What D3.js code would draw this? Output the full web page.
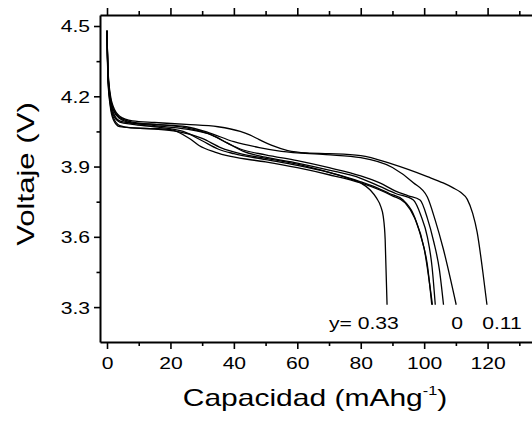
<html>
<head>
<script src="https://cdn.jsdelivr.net/npm/d3@7"></script>
<style>
  body { margin: 0; background: #fff; }
  text { font-family: "Liberation Sans", Arial, sans-serif; fill: #000; }
</style>
</head>
<body>
<div id="container"></div>
<script>
// discharge curves, capacity (mAh/g) vs voltage (V)
const cap011 = [0, 0.3, 1, 2, 4, 8, 15, 25, 35, 42, 45, 48, 52, 57, 63, 70, 80, 90, 101, 106, 109, 111.5, 113.6, 115.3, 116.7, 118.5, 119.8];
const volt011 = [4.48, 4.32, 4.21, 4.155, 4.115, 4.095, 4.088, 4.08, 4.07, 4.05, 4.035, 4.015, 3.99, 3.968, 3.958, 3.955, 3.947, 3.91, 3.857, 3.83, 3.81, 3.79, 3.76, 3.70, 3.62, 3.45, 3.31];

const cap000 = [0, 0.3, 1, 2, 4, 8, 15, 25, 32, 40, 48, 55, 69, 80, 90, 96.5, 101, 103.5, 106, 110.1];
const volt000 = [4.48, 4.31, 4.2, 4.145, 4.11, 4.09, 4.08, 4.07, 4.045, 4.006, 3.981, 3.965, 3.951, 3.938, 3.896, 3.832, 3.77, 3.67, 3.55, 3.31];

const capA = [0, 0.3, 1, 2, 4, 8, 15, 25, 32, 38, 42, 50, 60, 70, 80, 86, 91, 95, 98.7, 101, 103, 104.8, 106.1];
const voltA = [4.48, 4.30, 4.195, 4.14, 4.105, 4.085, 4.075, 4.06, 4.04, 4.0, 3.975, 3.95, 3.925, 3.895, 3.86, 3.83, 3.795, 3.775, 3.757, 3.68, 3.58, 3.46, 3.31];

const capB = [0, 0.3, 1, 2, 4, 8, 15, 24, 30, 35, 40, 50, 60, 70, 80, 85, 89, 93.4, 96.5, 99, 101, 102.4];
const voltB = [4.48, 4.29, 4.18, 4.12, 4.09, 4.08, 4.07, 4.05, 4.01, 3.975, 3.955, 3.93, 3.905, 3.875, 3.835, 3.81, 3.785, 3.757, 3.70, 3.60, 3.48, 3.31];

const capC = [0, 0.3, 1, 2, 4, 8, 15, 25, 33, 38, 43, 50, 60, 70, 80, 86, 91, 96.6, 99, 101, 102.5, 103.5];
const voltC = [4.48, 4.30, 4.19, 4.13, 4.095, 4.085, 4.08, 4.065, 4.035, 4.0, 3.965, 3.94, 3.915, 3.885, 3.85, 3.815, 3.785, 3.757, 3.69, 3.60, 3.47, 3.31];

const capD = [0, 0.3, 1, 2, 4, 8, 15, 20, 26, 29, 34, 39, 50, 60, 70, 80, 86, 90, 94, 97, 100, 102.6];
const voltD = [4.48, 4.28, 4.17, 4.11, 4.075, 4.065, 4.062, 4.058, 4.02, 3.99, 3.962, 3.943, 3.92, 3.895, 3.865, 3.83, 3.80, 3.775, 3.745, 3.68, 3.55, 3.31];

const cap033 = [0, 0.3, 1, 2, 4, 8, 15, 22, 30, 36, 42, 50, 60, 70, 76, 80, 83, 85, 86.3, 87.1, 87.7, 88.3];
const volt033 = [4.48, 4.27, 4.16, 4.10, 4.07, 4.065, 4.06, 4.05, 4.02, 3.98, 3.955, 3.935, 3.91, 3.875, 3.85, 3.83, 3.80, 3.765, 3.73, 3.687, 3.59, 3.31];

const series = [
  [cap011, volt011], [cap000, volt000], [capA, voltA], [capB, voltB],
  [capC, voltC], [capD, voltD], [cap033, volt033]
];

const xMajor = [0, 20, 40, 60, 80, 100, 120];
const xMinor = [10, 30, 50, 70, 90, 110, 130];
const yMajor = [3.3, 3.6, 3.9, 4.2, 4.5];
const yMinor = [3.45, 3.75, 4.05, 4.35];

// annotation labels: text, capacity, voltage, anchor
const labelText = ["y= 0.33", "0", "0.11"];
const labelCap = [70.0, 110.4, 118.3];
const labelVolt = [3.208, 3.208, 3.208];
const labelAnchor = ["start", "middle", "start"];

const width = 532, height = 421;
const stretch = 1.28; // the original font is drawn wide

const x = d3.scaleLinear().domain([-2.21, 134.0]).range([100, 532]);
const y = d3.scaleLinear().domain([3.151, 4.547]).range([342, 15]);

const svg = d3.select("#container").append("svg")
  .attr("width", width)
  .attr("height", height);

// curves
const line = d3.line()
  .x(d => x(d[0]))
  .y(d => y(d[1]))
  .curve(d3.curveMonotoneX);

svg.append("g")
  .selectAll("path")
  .data(series.map(s => s[0].map((c, i) => [c, s[1][i]])))
  .join("path")
  .attr("d", line)
  .attr("fill", "none")
  .attr("stroke", "#000")
  .attr("stroke-width", 1.3)
  .attr("stroke-linejoin", "round");

// axes
function styleAxis(g) {
  g.selectAll(".domain").attr("stroke-width", 2).attr("stroke", "#000");
  g.selectAll(".tick line").attr("stroke-width", 1.6).attr("stroke", "#000");
}

const bottom = svg.append("g")
  .attr("transform", "translate(0,342)")
  .call(d3.axisBottom(x).tickValues(xMajor).tickSize(7).tickSizeOuter(0).tickFormat(d3.format("d")))
  .call(styleAxis);
bottom.selectAll("text")
  .attr("y", 15)
  .attr("dy", "0.71em")
  .attr("font-size", 16.5)
  .attr("transform", `scale(${stretch},1)`);
svg.append("g")
  .attr("transform", "translate(0,342)")
  .call(d3.axisBottom(x).tickValues(xMinor).tickSize(4).tickFormat(""))
  .call(styleAxis)
  .call(g => g.select(".domain").remove());

svg.append("g")
  .attr("transform", "translate(0,15)")
  .call(d3.axisTop(x).tickValues(xMajor).tickSize(7).tickSizeOuter(0).tickFormat(""))
  .call(styleAxis);
svg.append("g")
  .attr("transform", "translate(0,15)")
  .call(d3.axisTop(x).tickValues(xMinor).tickSize(4).tickFormat(""))
  .call(styleAxis)
  .call(g => g.select(".domain").remove());

const left = svg.append("g")
  .attr("transform", "translate(100,0)")
  .call(d3.axisLeft(y).tickValues(yMajor).tickSize(6).tickSizeOuter(0).tickFormat(d3.format(".1f")))
  .call(styleAxis);
left.selectAll("text")
  .attr("x", -7.8)
  .attr("dy", "0.36em")
  .attr("font-size", 16.5)
  .attr("transform", `scale(${stretch},1)`);
svg.append("g")
  .attr("transform", "translate(100,0)")
  .call(d3.axisLeft(y).tickValues(yMinor).tickSize(3.5).tickFormat(""))
  .call(styleAxis)
  .call(g => g.select(".domain").remove());

// axis titles
const xt = svg.append("text")
  .attr("transform", `translate(315,406) scale(1.25,1)`)
  .attr("text-anchor", "middle")
  .attr("font-size", 24);
xt.append("tspan").text("Capacidad (mAhg");
xt.append("tspan").attr("font-size", 13).attr("dy", -11).text("-1");
xt.append("tspan").attr("dy", 11).text(")");

svg.append("text")
  .attr("transform", `translate(34,174) rotate(-90) scale(1.27,1)`)
  .attr("text-anchor", "middle")
  .attr("font-size", 24.5)
  .text("Voltaje (V)");

// curve labels
svg.append("g")
  .selectAll("text")
  .data(labelText)
  .join("text")
  .attr("transform", (d, i) => `translate(${x(labelCap[i])},${y(labelVolt[i])}) scale(${stretch},1)`)
  .attr("text-anchor", (d, i) => labelAnchor[i])
  .attr("font-size", 16.5)
  .text(d => d);
</script>
</body>
</html>
